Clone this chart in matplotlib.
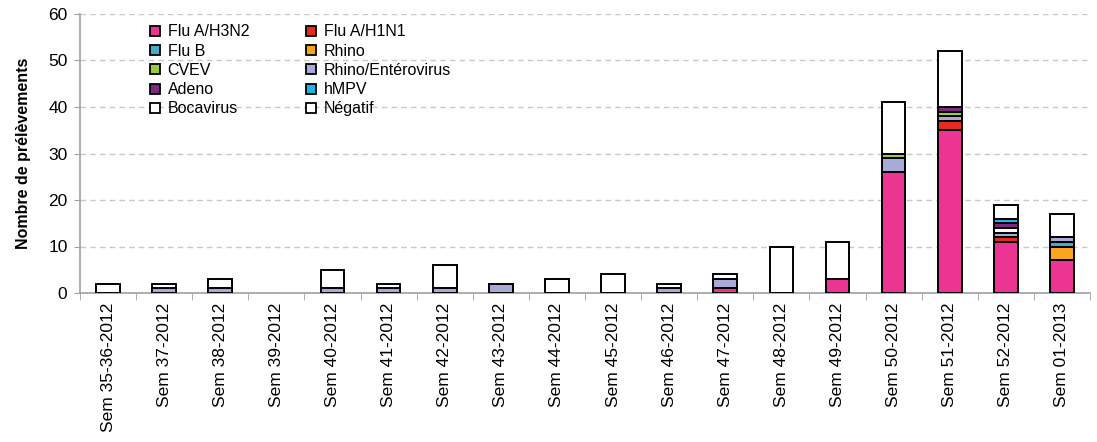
import numpy as np
import matplotlib.pyplot as plt

plt.rcParams['font.family'] = ['Liberation Sans', 'DejaVu Sans']

weeks = ['Sem 35-36-2012', 'Sem 37-2012', 'Sem 38-2012', 'Sem 39-2012', 'Sem 40-2012',
         'Sem 41-2012', 'Sem 42-2012', 'Sem 43-2012', 'Sem 44-2012', 'Sem 45-2012',
         'Sem 46-2012', 'Sem 47-2012', 'Sem 48-2012', 'Sem 49-2012', 'Sem 50-2012',
         'Sem 51-2012', 'Sem 52-2012', 'Sem 01-2013']

# values per week
flu_h3n2 = [0, 0, 0, 0, 0, 0, 0, 0, 0, 0, 0, 1, 0, 3, 26, 35, 11, 7]
flu_h1n1 = [0, 0, 0, 0, 0, 0, 0, 0, 0, 0, 0, 0, 0, 0, 0, 2, 1, 0]
rhino = [0, 0, 0, 0, 0, 0, 0, 0, 0, 0, 0, 0, 0, 0, 0, 0, 0, 3]
flu_b = [0, 0, 0, 0, 0, 0, 0, 0, 0, 0, 0, 0, 0, 0, 0, 0, 0, 1]
rhino_entero = [0, 1, 1, 0, 1, 1, 1, 2, 0, 0, 1, 2, 0, 0, 3, 1, 1, 1]
cvev = [0, 0, 0, 0, 0, 0, 0, 0, 0, 0, 0, 0, 0, 0, 1, 1, 0, 0]
bocavirus = [0, 0, 0, 0, 0, 0, 0, 0, 0, 0, 0, 0, 0, 0, 0, 0, 1, 0]
adeno = [0, 0, 0, 0, 0, 0, 0, 0, 0, 0, 0, 0, 0, 0, 0, 1, 1, 0]
hmpv = [0, 0, 0, 0, 0, 0, 0, 0, 0, 0, 0, 0, 0, 0, 0, 0, 1, 0]
negatif = [2, 1, 2, 0, 4, 1, 5, 0, 3, 4, 1, 1, 10, 8, 11, 12, 3, 5]

# stacking order (bottom -> top)
series = [
    ('Flu A/H3N2', flu_h3n2, '#EC3592'),
    ('Flu A/H1N1', flu_h1n1, '#E42A22'),
    ('Rhino', rhino, '#F9A51E'),
    ('Flu B', flu_b, '#4BAAC3'),
    ('Rhino/Entérovirus', rhino_entero, '#AAAAD6'),
    ('CVEV', cvev, '#9DCB3C'),
    ('Bocavirus', bocavirus, '#FFFFFF'),
    ('Adeno', adeno, '#7C2A7E'),
    ('hMPV', hmpv, '#1EB2E6'),
    ('Négatif', negatif, '#FFFFFF'),
]
# legend is filled column by column
legend_order = ['Flu A/H3N2', 'Flu B', 'CVEV', 'Adeno', 'Bocavirus',
                'Flu A/H1N1', 'Rhino', 'Rhino/Entérovirus', 'hMPV', 'Négatif']

fig = plt.figure(figsize=(10.97, 4.42), dpi=100)
ax = fig.add_axes([80 / 1097, 1 - 293 / 442, 1010 / 1097, 279 / 442])

x = np.arange(len(weeks))
bottom = np.zeros(len(weeks))
handles = {}
for name, vals, col in series:
    vals = np.array(vals, dtype=float)
    nz = vals > 0
    ax.bar(x[nz], vals[nz], 0.42, bottom=bottom[nz], color=col, edgecolor='black',
           linewidth=1.4, zorder=3)
    bottom += vals
    handles[name] = plt.Line2D([], [], marker='s', linestyle='none', markersize=7.5,
                               markerfacecolor=col, markeredgecolor='black',
                               markeredgewidth=1.3)

ax.set_xlim(-0.5, len(weeks) - 0.5)
ax.set_ylim(0, 60)
ax.set_yticks(range(0, 61, 10))
ax.yaxis.grid(True, linestyle=(0, (4, 3)), color='#C8C8C8', linewidth=1, zorder=0)

ax.set_xticks(x)
ax.set_xticklabels(weeks, rotation=90, fontsize=12.5)
ax.set_xticks(np.arange(-0.5, len(weeks)), minor=True)
ax.tick_params(axis='x', which='major', length=0, pad=7)
ax.tick_params(axis='x', which='minor', length=5, color='#A0A0A0', direction='out')
ax.tick_params(axis='y', length=4, color='#A0A0A0', labelsize=12.5, pad=5)

for s in ['top', 'right']:
    ax.spines[s].set_visible(False)
for s in ['left', 'bottom']:
    ax.spines[s].set_color('#A0A0A0')
    ax.spines[s].set_linewidth(1.2)

ax.set_ylabel('Nombre de prélèvements', fontsize=11.5, fontweight='bold', labelpad=12)

ax.legend([handles[n] for n in legend_order], legend_order, ncol=2, frameon=False,
          loc='upper left', bbox_to_anchor=(0.052, 1.015), fontsize=11.5,
          handletextpad=0.3, columnspacing=3.4, labelspacing=0.27, handlelength=1.0)

fig.savefig('out.png', dpi=100)
